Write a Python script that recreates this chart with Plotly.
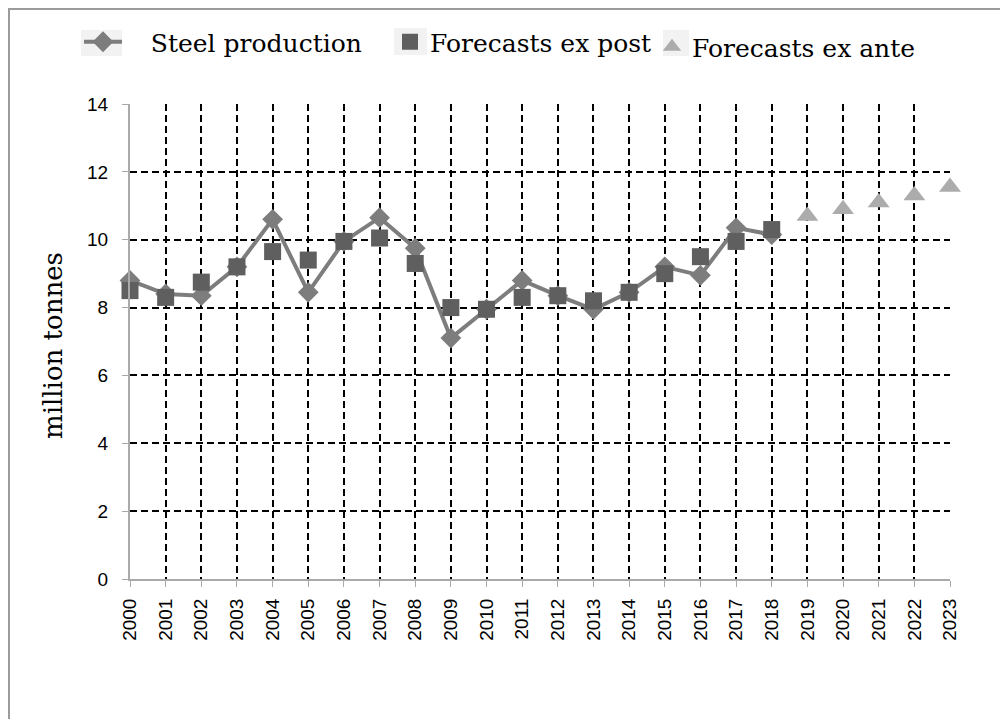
import plotly.graph_objects as go

years = list(range(2000, 2019))
steel_production = [8.8, 8.4, 8.35, 9.2, 10.6, 8.45, 9.95, 10.65, 9.75, 7.1,
                    7.95, 8.8, 8.35, 7.95, 8.45, 9.2, 8.95, 10.35, 10.15]
ex_post = [8.5, 8.3, 8.75, 9.2, 9.65, 9.4, 9.95, 10.05, 9.3, 8.0,
           7.95, 8.3, 8.35, 8.2, 8.45, 9.0, 9.5, 9.95, 10.3]
ante_years = [2019, 2020, 2021, 2022, 2023]
ex_ante = [10.7, 10.9, 11.1, 11.3, 11.55]

serif = "DejaVu Serif"
sans = "Liberation Sans"
nb = "\u00a0"

# page has an 8px body margin, so the figure is sized to fit inside it
W, H = 992, 711
L, R, T, B = 122, 50, 96, 140
pw, ph = W - L - R, H - T - B


def px(x):
    return (x - L) / pw


def py(y):
    return (H - B - y) / ph


fig = go.Figure()
fig.add_trace(go.Scatter(
    x=years, y=steel_production, mode="lines+markers", name=nb * 3 + "Steel production",
    line=dict(color="rgb(125,125,125)", width=4),
    marker=dict(symbol="diamond", size=16, color="rgb(125,125,125)"),
    legend="legend", cliponaxis=False,
))
fig.add_trace(go.Scatter(
    x=years, y=ex_post, mode="markers", name="Forecasts ex post",
    marker=dict(symbol="square", size=17, color="rgb(95,95,95)"),
    legend="legend2", cliponaxis=False,
))
fig.add_trace(go.Scatter(
    x=ante_years, y=ex_ante, mode="markers", name="Forecasts ex ante",
    marker=dict(symbol="triangle-up", size=19, color="rgb(172,172,172)"),
    legend="legend3", cliponaxis=False,
))

legend_font = dict(family=serif, size=25, color="black")
box = "rgb(242,242,242)"
frame = dict(color="rgb(155,155,155)", width=2)
fig.update_layout(
    width=W,
    height=H,
    margin=dict(l=L, r=R, t=T, b=B, autoexpand=False),
    paper_bgcolor="white",
    plot_bgcolor="white",
    showlegend=True,
    legend=dict(x=71 / W, y=1 - 34 / H, xref="container", yref="container",
                xanchor="left", yanchor="middle", font=legend_font,
                bgcolor="rgba(0,0,0,0)", itemwidth=38),
    legend2=dict(x=382 / W, y=1 - 34 / H, xref="container", yref="container",
                 xanchor="left", yanchor="middle", font=legend_font,
                 bgcolor="rgba(0,0,0,0)", itemwidth=30),
    legend3=dict(x=644 / W, y=1 - 39 / H, xref="container", yref="container",
                 xanchor="left", yanchor="middle", font=legend_font,
                 bgcolor="rgba(0,0,0,0)", itemwidth=30),
    shapes=[
        dict(type="rect", xref="paper", yref="paper", x0=px(73), x1=px(114),
             y0=py(22), y1=py(48), fillcolor=box, line_width=0, layer="below"),
        dict(type="rect", xref="paper", yref="paper", x0=px(386), x1=px(419),
             y0=py(20), y1=py(47), fillcolor=box, line_width=0, layer="below"),
        dict(type="rect", xref="paper", yref="paper", x0=px(655), x1=px(681),
             y0=py(22), y1=py(48), fillcolor=box, line_width=0, layer="below"),
        dict(type="line", xref="paper", yref="paper", x0=px(1), x1=px(1),
             y0=py(0), y1=py(H), line=frame),
        dict(type="line", xref="paper", yref="paper", x0=px(0), x1=px(W),
             y0=py(1), y1=py(1), line=frame),
    ],
    annotations=[
        dict(text="million tonnes", textangle=-90, xref="paper", yref="paper",
             x=px(28), y=py(338), showarrow=False,
             font=dict(family=serif, size=26, color="black")),
    ],
)
fig.update_xaxes(
    range=[2000, 2023], tickmode="linear", tick0=2000, dtick=1,
    tickangle=-90, tickfont=dict(family=sans, size=19, color="black"),
    showgrid=True, gridcolor="black", griddash="7px,4px", gridwidth=1.8,
    showline=True, linecolor="rgb(170,170,170)", linewidth=2,
    ticks="outside", ticklen=6, tickcolor="rgb(170,170,170)",
    ticklabelstandoff=4, zeroline=False,
)
fig.update_yaxes(
    range=[0, 14], tickmode="linear", tick0=0, dtick=2,
    tickfont=dict(family=sans, size=19, color="black"),
    showgrid=True, gridcolor="black", griddash="7px,4px", gridwidth=1.8,
    showline=True, linecolor="rgb(170,170,170)", linewidth=2,
    ticks="outside", ticklen=6, tickcolor="rgb(170,170,170)",
    ticklabelstandoff=10, zeroline=False,
)

fig.write_html("out.html")
